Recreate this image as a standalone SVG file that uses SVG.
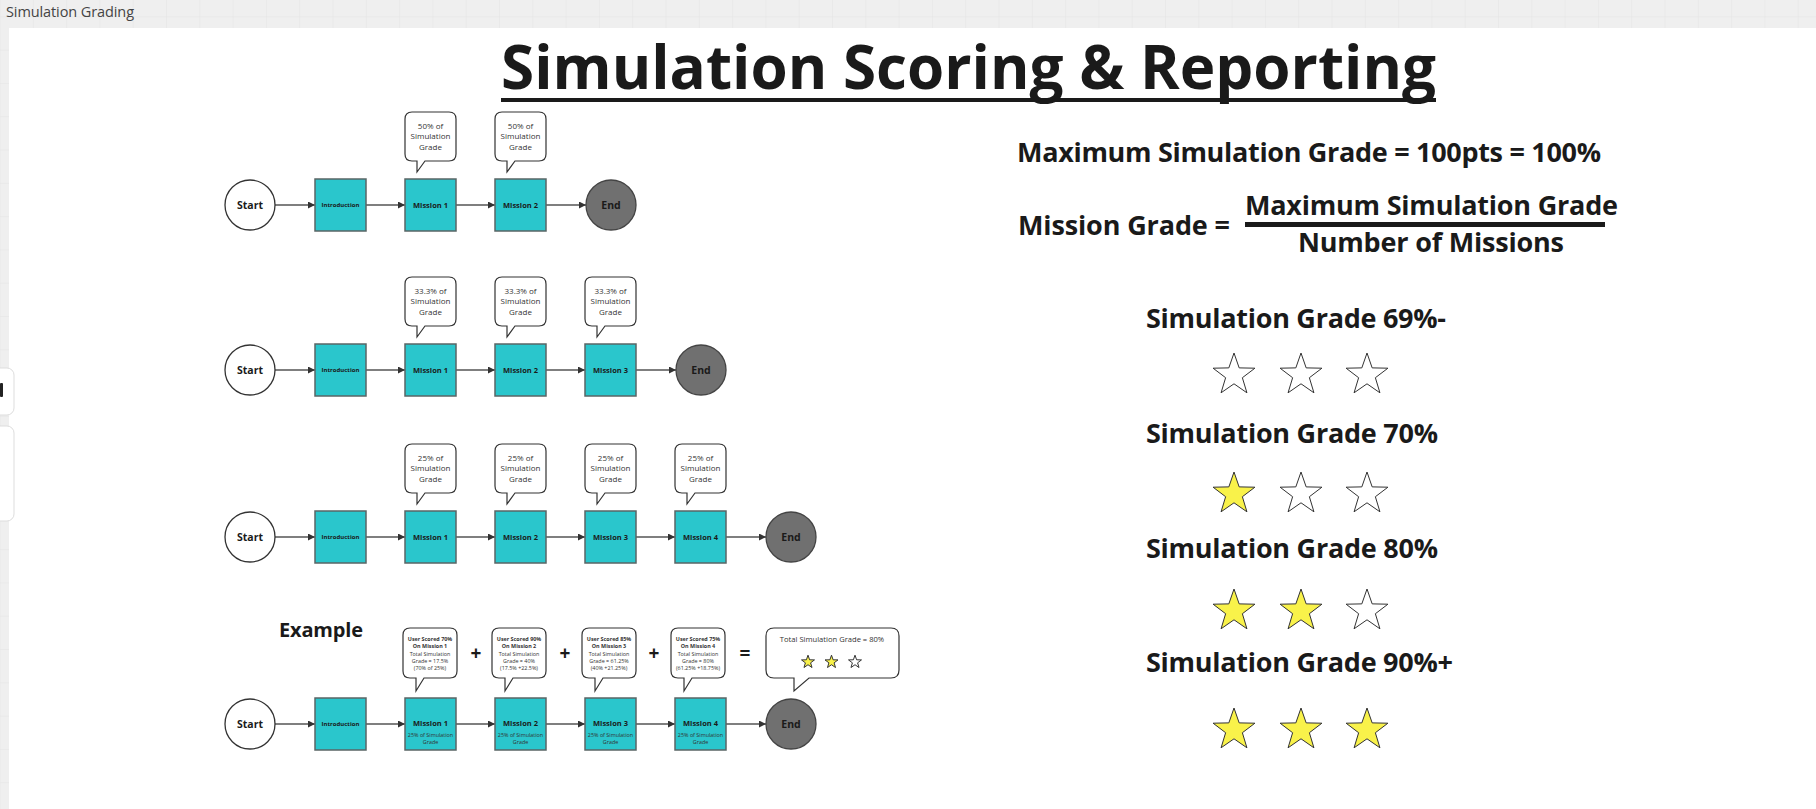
<svg xmlns="http://www.w3.org/2000/svg" width="1816" height="809" viewBox="0 0 1816 809">
<style>
.t{font-family:"Open Sans","Liberation Sans",sans-serif;fill:#1a1a1a}
.b{font-weight:700}
.c{text-anchor:middle}
.node{fill:#2ac6cc;stroke:#5a6566;stroke-width:1.5}
.start{fill:#ffffff;stroke:#333333;stroke-width:1.3}
.end{fill:#707070;stroke:#444444;stroke-width:1.3}
.call{fill:#ffffff;stroke:#333333;stroke-width:1.2}
.conn{stroke:#555555;stroke-width:1.4;fill:none}
.sy{fill:#f9f24a;stroke:#333333;stroke-width:1}
.sw{fill:#ffffff;stroke:#333333;stroke-width:1}
.ct{font-size:8px;fill:#333333}
.et{font-size:5.4px;fill:#333333}
</style>
<defs>
<pattern id="grid" width="33.3" height="33.3" patternUnits="userSpaceOnUse" x="0.5" y="-16">
<path d="M33.3,0 V33.3 M0,33.3 H33.3" stroke="#e3e3e3" stroke-width="1" fill="none"/>
</pattern>
<marker id="arr" markerWidth="8" markerHeight="8" refX="7" refY="3.5" orient="auto" markerUnits="userSpaceOnUse">
<path d="M0,0 L7,3.5 L0,7 Z" fill="#333333"/>
</marker>
<path id="star" d="M0,-22 L5.17,-7.12 L20.92,-6.8 L8.37,2.72 L12.93,17.8 L0,8.8 L-12.93,17.8 L-8.37,2.72 L-20.92,-6.8 L-5.17,-7.12 Z"/>
<path id="co" d="M7,0 H44 Q51,0 51,7 V42 Q51,49 44,49 H20 L12,60 V49 H7 Q0,49 0,42 V7 Q0,0 7,0 Z"/>
<path id="co4" d="M7,0 H47 Q54,0 54,7 V43 Q54,50 47,50 H21 L13,63 V50 H7 Q0,50 0,43 V7 Q0,0 7,0 Z"/>
</defs>

<rect x="0" y="0" width="1816" height="809" fill="#efefef"/>
<rect x="0" y="0" width="1816" height="809" fill="url(#grid)"/>
<rect x="9" y="28" width="1807" height="781" fill="#ffffff"/>
<text class="t" x="6" y="17" font-size="14.5" textLength="128" style="fill:#444444">Simulation Grading</text>

<g id="ui-controls">
<rect x="-10" y="368" width="24" height="47" rx="7" fill="#ffffff" stroke="#dddddd"/>
<rect x="0" y="383" width="3" height="14" rx="1" fill="#222222"/>
<rect x="-10" y="426" width="24" height="95" rx="7" fill="#ffffff" stroke="#dddddd"/>
</g>

<g id="title">
<text class="t b" x="501" y="89" font-size="60" textLength="935" lengthAdjust="spacingAndGlyphs">Simulation Scoring &amp; Reporting</text>
<rect x="501" y="98" width="935" height="4" fill="#1a1a1a"/>
</g>

<g id="formulas">
<text class="t b" x="1017" y="162" font-size="27" textLength="584">Maximum Simulation Grade = 100pts = 100%</text>
<text class="t b" x="1018" y="235" font-size="27" textLength="212">Mission Grade =</text>
<text class="t b" x="1245" y="215" font-size="27" textLength="373">Maximum Simulation Grade</text>
<rect x="1245" y="222" width="360" height="5" fill="#1a1a1a"/>
<text class="t b" x="1298" y="252" font-size="27" textLength="266">Number of Missions</text>
</g>

<g id="grade-69">
<text class="t b" x="1146" y="328" font-size="27" textLength="300">Simulation Grade 69%-</text>
<use href="#star" class="sw" x="1234" y="375"/>
<use href="#star" class="sw" x="1301" y="375"/>
<use href="#star" class="sw" x="1367" y="375"/>
</g>
<g id="grade-70">
<text class="t b" x="1146" y="443" font-size="27" textLength="292">Simulation Grade 70%</text>
<use href="#star" class="sy" x="1234" y="494"/>
<use href="#star" class="sw" x="1301" y="494"/>
<use href="#star" class="sw" x="1367" y="494"/>
</g>
<g id="grade-80">
<text class="t b" x="1146" y="558" font-size="27" textLength="292">Simulation Grade 80%</text>
<use href="#star" class="sy" x="1234" y="611"/>
<use href="#star" class="sy" x="1301" y="611"/>
<use href="#star" class="sw" x="1367" y="611"/>
</g>
<g id="grade-90">
<text class="t b" x="1146" y="672" font-size="27" textLength="307">Simulation Grade 90%+</text>
<use href="#star" class="sy" x="1234" y="730"/>
<use href="#star" class="sy" x="1301" y="730"/>
<use href="#star" class="sy" x="1367" y="730"/>
</g>

<g id="connectors">
<line class="conn" x1="275" y1="205" x2="315" y2="205" marker-end="url(#arr)"/>
<line class="conn" x1="366" y1="205" x2="405" y2="205" marker-end="url(#arr)"/>
<line class="conn" x1="456" y1="205" x2="495" y2="205" marker-end="url(#arr)"/>
<line class="conn" x1="546" y1="205" x2="586" y2="205" marker-end="url(#arr)"/>

<line class="conn" x1="275" y1="370" x2="315" y2="370" marker-end="url(#arr)"/>
<line class="conn" x1="366" y1="370" x2="405" y2="370" marker-end="url(#arr)"/>
<line class="conn" x1="456" y1="370" x2="495" y2="370" marker-end="url(#arr)"/>
<line class="conn" x1="546" y1="370" x2="585" y2="370" marker-end="url(#arr)"/>
<line class="conn" x1="636" y1="370" x2="676" y2="370" marker-end="url(#arr)"/>

<line class="conn" x1="275" y1="537" x2="315" y2="537" marker-end="url(#arr)"/>
<line class="conn" x1="366" y1="537" x2="405" y2="537" marker-end="url(#arr)"/>
<line class="conn" x1="456" y1="537" x2="495" y2="537" marker-end="url(#arr)"/>
<line class="conn" x1="546" y1="537" x2="585" y2="537" marker-end="url(#arr)"/>
<line class="conn" x1="636" y1="537" x2="675" y2="537" marker-end="url(#arr)"/>
<line class="conn" x1="726" y1="537" x2="766" y2="537" marker-end="url(#arr)"/>

<line class="conn" x1="275" y1="724" x2="315" y2="724" marker-end="url(#arr)"/>
<line class="conn" x1="366" y1="724" x2="405" y2="724" marker-end="url(#arr)"/>
<line class="conn" x1="456" y1="724" x2="495" y2="724" marker-end="url(#arr)"/>
<line class="conn" x1="546" y1="724" x2="585" y2="724" marker-end="url(#arr)"/>
<line class="conn" x1="636" y1="724" x2="675" y2="724" marker-end="url(#arr)"/>
<line class="conn" x1="726" y1="724" x2="766" y2="724" marker-end="url(#arr)"/>
</g>

<!-- Row 1 -->
<g id="r1-start"><circle class="start" cx="250" cy="205" r="25"/><text class="t b c" x="250" y="208.7" font-size="10.5">Start</text></g>
<g id="r1-intro"><rect class="node" x="315" y="179" width="51" height="52"/><text class="t b c" x="340.5" y="207" font-size="6">Introduction</text></g>
<g id="r1-m1"><rect class="node" x="405" y="179" width="51" height="52"/><text class="t b c" x="430.5" y="207.6" font-size="7.5">Mission 1</text></g>
<g id="r1-m2"><rect class="node" x="495" y="179" width="51" height="52"/><text class="t b c" x="520.5" y="207.6" font-size="7.5">Mission 2</text></g>
<g id="r1-end"><circle class="end" cx="611" cy="205" r="25"/><text class="t b c" x="611" y="208.7" font-size="10.5">End</text></g>
<g id="r1-c1"><use href="#co" class="call" x="405" y="112"/><text class="t c ct" x="430.5" y="129">50% of</text><text class="t c ct" x="430.5" y="139">Simulation</text><text class="t c ct" x="430.5" y="150">Grade</text></g>
<g id="r1-c2"><use href="#co" class="call" x="495" y="112"/><text class="t c ct" x="520.5" y="129">50% of</text><text class="t c ct" x="520.5" y="139">Simulation</text><text class="t c ct" x="520.5" y="150">Grade</text></g>

<!-- Row 2 -->
<g id="r2-start"><circle class="start" cx="250" cy="370" r="25"/><text class="t b c" x="250" y="373.7" font-size="10.5">Start</text></g>
<g id="r2-intro"><rect class="node" x="315" y="344" width="51" height="52"/><text class="t b c" x="340.5" y="372" font-size="6">Introduction</text></g>
<g id="r2-m1"><rect class="node" x="405" y="344" width="51" height="52"/><text class="t b c" x="430.5" y="372.6" font-size="7.5">Mission 1</text></g>
<g id="r2-m2"><rect class="node" x="495" y="344" width="51" height="52"/><text class="t b c" x="520.5" y="372.6" font-size="7.5">Mission 2</text></g>
<g id="r2-m3"><rect class="node" x="585" y="344" width="51" height="52"/><text class="t b c" x="610.5" y="372.6" font-size="7.5">Mission 3</text></g>
<g id="r2-end"><circle class="end" cx="701" cy="370" r="25"/><text class="t b c" x="701" y="373.7" font-size="10.5">End</text></g>
<g id="r2-c1"><use href="#co" class="call" x="405" y="277"/><text class="t c ct" x="430.5" y="294">33.3% of</text><text class="t c ct" x="430.5" y="304">Simulation</text><text class="t c ct" x="430.5" y="315">Grade</text></g>
<g id="r2-c2"><use href="#co" class="call" x="495" y="277"/><text class="t c ct" x="520.5" y="294">33.3% of</text><text class="t c ct" x="520.5" y="304">Simulation</text><text class="t c ct" x="520.5" y="315">Grade</text></g>
<g id="r2-c3"><use href="#co" class="call" x="585" y="277"/><text class="t c ct" x="610.5" y="294">33.3% of</text><text class="t c ct" x="610.5" y="304">Simulation</text><text class="t c ct" x="610.5" y="315">Grade</text></g>

<!-- Row 3 -->
<g id="r3-start"><circle class="start" cx="250" cy="537" r="25"/><text class="t b c" x="250" y="540.7" font-size="10.5">Start</text></g>
<g id="r3-intro"><rect class="node" x="315" y="511" width="51" height="52"/><text class="t b c" x="340.5" y="539" font-size="6">Introduction</text></g>
<g id="r3-m1"><rect class="node" x="405" y="511" width="51" height="52"/><text class="t b c" x="430.5" y="539.6" font-size="7.5">Mission 1</text></g>
<g id="r3-m2"><rect class="node" x="495" y="511" width="51" height="52"/><text class="t b c" x="520.5" y="539.6" font-size="7.5">Mission 2</text></g>
<g id="r3-m3"><rect class="node" x="585" y="511" width="51" height="52"/><text class="t b c" x="610.5" y="539.6" font-size="7.5">Mission 3</text></g>
<g id="r3-m4"><rect class="node" x="675" y="511" width="51" height="52"/><text class="t b c" x="700.5" y="539.6" font-size="7.5">Mission 4</text></g>
<g id="r3-end"><circle class="end" cx="791" cy="537" r="25"/><text class="t b c" x="791" y="540.7" font-size="10.5">End</text></g>
<g id="r3-c1"><use href="#co" class="call" x="405" y="444"/><text class="t c ct" x="430.5" y="461">25% of</text><text class="t c ct" x="430.5" y="471">Simulation</text><text class="t c ct" x="430.5" y="482">Grade</text></g>
<g id="r3-c2"><use href="#co" class="call" x="495" y="444"/><text class="t c ct" x="520.5" y="461">25% of</text><text class="t c ct" x="520.5" y="471">Simulation</text><text class="t c ct" x="520.5" y="482">Grade</text></g>
<g id="r3-c3"><use href="#co" class="call" x="585" y="444"/><text class="t c ct" x="610.5" y="461">25% of</text><text class="t c ct" x="610.5" y="471">Simulation</text><text class="t c ct" x="610.5" y="482">Grade</text></g>
<g id="r3-c4"><use href="#co" class="call" x="675" y="444"/><text class="t c ct" x="700.5" y="461">25% of</text><text class="t c ct" x="700.5" y="471">Simulation</text><text class="t c ct" x="700.5" y="482">Grade</text></g>

<!-- Row 4: Example -->
<text class="t b" x="279" y="637" font-size="20" textLength="84">Example</text>
<g id="r4-start"><circle class="start" cx="250" cy="724" r="25"/><text class="t b c" x="250" y="727.7" font-size="10.5">Start</text></g>
<g id="r4-intro"><rect class="node" x="315" y="698" width="51" height="52"/><text class="t b c" x="340.5" y="726" font-size="6">Introduction</text></g>
<g id="r4-m1"><rect class="node" x="405" y="698" width="51" height="52"/><text class="t b c" x="430.5" y="725.5" font-size="7.5">Mission 1</text><text class="t c et" x="430.5" y="737">25% of Simulation</text><text class="t c et" x="430.5" y="744">Grade</text></g>
<g id="r4-m2"><rect class="node" x="495" y="698" width="51" height="52"/><text class="t b c" x="520.5" y="725.5" font-size="7.5">Mission 2</text><text class="t c et" x="520.5" y="737">25% of Simulation</text><text class="t c et" x="520.5" y="744">Grade</text></g>
<g id="r4-m3"><rect class="node" x="585" y="698" width="51" height="52"/><text class="t b c" x="610.5" y="725.5" font-size="7.5">Mission 3</text><text class="t c et" x="610.5" y="737">25% of Simulation</text><text class="t c et" x="610.5" y="744">Grade</text></g>
<g id="r4-m4"><rect class="node" x="675" y="698" width="51" height="52"/><text class="t b c" x="700.5" y="725.5" font-size="7.5">Mission 4</text><text class="t c et" x="700.5" y="737">25% of Simulation</text><text class="t c et" x="700.5" y="744">Grade</text></g>
<g id="r4-end"><circle class="end" cx="791" cy="724" r="25"/><text class="t b c" x="791" y="727.7" font-size="10.5">End</text></g>

<g id="r4-c1"><use href="#co4" class="call" x="403" y="628"/>
<text class="t b c et" x="430" y="641">User Scored 70%</text><text class="t b c et" x="430" y="648.3">On Mission 1</text>
<text class="t c et" x="430" y="655.6">Total Simulation</text><text class="t c et" x="430" y="663">Grade = 17.5%</text><text class="t c et" x="430" y="670.3">(70% of 25%)</text></g>
<g id="r4-c2"><use href="#co4" class="call" x="492" y="628"/>
<text class="t b c et" x="519" y="641">User Scored 90%</text><text class="t b c et" x="519" y="648.3">On Mission 2</text>
<text class="t c et" x="519" y="655.6">Total Simulation</text><text class="t c et" x="519" y="663">Grade = 40%</text><text class="t c et" x="519" y="670.3">(17.5% +22.5%)</text></g>
<g id="r4-c3"><use href="#co4" class="call" x="582" y="628"/>
<text class="t b c et" x="609" y="641">User Scored 85%</text><text class="t b c et" x="609" y="648.3">On Mission 3</text>
<text class="t c et" x="609" y="655.6">Total Simulation</text><text class="t c et" x="609" y="663">Grade = 61.25%</text><text class="t c et" x="609" y="670.3">(40% +21.25%)</text></g>
<g id="r4-c4"><use href="#co4" class="call" x="671" y="628"/>
<text class="t b c et" x="698" y="641">User Scored 75%</text><text class="t b c et" x="698" y="648.3">On Mission 4</text>
<text class="t c et" x="698" y="655.6">Total Simulation</text><text class="t c et" x="698" y="663">Grade = 80%</text><text class="t c et" x="698" y="670.3">(61.25% +18.75%)</text></g>

<g id="r4-ops">
<text class="t b c" x="476" y="659.5" font-size="19">+</text>
<text class="t b c" x="565" y="659.5" font-size="19">+</text>
<text class="t b c" x="654" y="659.5" font-size="19">+</text>
<text class="t b c" x="745" y="659.5" font-size="19">=</text>
</g>

<g id="r4-total">
<path class="call" d="M774,628 H891 Q899,628 899,636 V670 Q899,678 891,678 H809 L794,691 V678 H774 Q766,678 766,670 V636 Q766,628 774,628 Z"/>
<text class="t c" x="832" y="642" font-size="7.6" style="fill:#333333">Total Simulation Grade = 80%</text>
<use href="#star" class="sy" transform="translate(808,662) scale(0.31)" style="stroke-width:3.2"/>
<use href="#star" class="sy" transform="translate(831.5,662) scale(0.31)" style="stroke-width:3.2"/>
<use href="#star" class="sw" transform="translate(855,662) scale(0.31)" style="stroke-width:3.2"/>
</g>
</svg>
